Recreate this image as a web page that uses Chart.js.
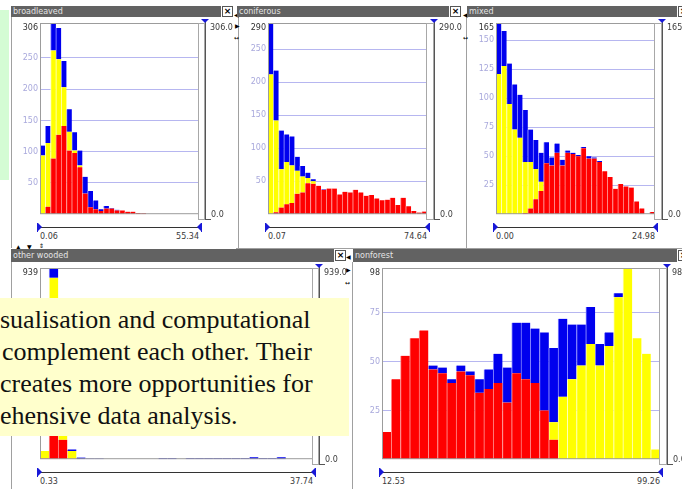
<!DOCTYPE html>
<html>
<head>
<meta charset="utf-8">
<title>histograms</title>
<script src="https://cdn.jsdelivr.net/npm/chart.js@4.4.1/dist/chart.umd.min.js"></script>
<style>
  html, body { margin: 0; padding: 0; background: #fff; overflow: hidden; }
  #stage { position: relative; width: 682px; height: 489px; overflow: hidden; font-family: "DejaVu Sans", sans-serif; }
  .titlebar { position: absolute; background: #626262; color: #e4e4e4; font-size: 8px; padding-left: 2px; box-sizing: border-box; white-space: nowrap; }
  .close { position: absolute; width: 11px; height: 11px; background: #fff; border: 1px solid #555; box-sizing: border-box; font-size: 9px; font-weight: bold; line-height: 8px; text-align: center; color: #000; }
  .lbl { position: absolute; font-size: 8px; line-height: 10px; color: #3a3a3a; white-space: nowrap; }
  .line { position: absolute; background: #555; }
  .tri { position: absolute; width: 0; height: 0; }
  .mark { position: absolute; font-size: 6px; line-height: 6px; color: #000; }
  #note { position: absolute; left: 0; top: 298px; width: 349px; height: 138px; background: #ffffcc;
          font-family: "Liberation Serif", serif; font-size: 26px; line-height: 32px; color: #111;
          padding-top: 6px; box-sizing: border-box; z-index: 10; }
  #note div { white-space: nowrap; }
</style>
</head>
<body>
<div id="stage"></div>
<script>
// bins are stacked red (bottom), yellow, blue (top)
const broadleavedRed    = [0, 12, 89, 127, 141, 102, 98, 75, 33, 11, 8, 5, 9, 9, 6, 6, 4, 4, 2, 1.5, 0, 0, 0, 0, 0, 0, 0, 0, 0, 0];
const broadleavedYellow = [94, 102, 173, 121, 62, 30, 4, 3, 0, 0, 0, 0, 0, 0, 0, 0, 0, 0, 0, 0, 0, 0, 0, 0, 0, 0, 0, 0, 0, 0];
const broadleavedBlue   = [16, 27, 44, 50, 42, 36, 29, 24, 27, 26, 14, 3, 4, 1, 1, 0, 0, 0, 0, 0, 0, 0, 0, 0, 0, 0, 0, 0, 0, 0];
const broadleavedMax = 306;
const broadleavedTicks = [50, 100, 150, 200, 250];
const broadleavedRange = ['0.06', '55.34'];
const broadleavedSide = ['306.0', '0.0'];

const coniferousRed    = [0, 3, 10, 15, 17, 31, 33, 47, 46, 43, 37, 39, 39, 30, 34, 33, 37, 33, 28, 29, 24, 21, 22, 25, 14, 25, 12, 5, 2.5, 4];
const coniferousYellow = [212, 139, 58, 64, 57, 35, 24, 8, 4, 0, 0, 0, 0, 0, 0, 0, 0, 0, 0, 0, 0, 0, 0, 0, 0, 0, 0, 0, 0, 0];
const coniferousBlue   = [78, 76, 59, 42, 44, 21, 16, 8, 3, 0, 1, 0, 0, 0, 0, 0, 0, 0, 0, 0, 0, 0, 0, 0, 0, 0, 0, 0, 0, 0];
const coniferousMax = 290;
const coniferousTicks = [50, 100, 150, 200, 250];
const coniferousRange = ['0.07', '74.64'];
const coniferousSide = ['290.0', '0.0'];

const mixedRed    = [0, 0, 0, 0, 0, 1, 5, 13, 20, 44, 42, 53, 42, 53, 52, 50, 57, 48, 48, 45, 37, 32, 22, 26, 24, 23, 11, 5, 0, 2];
const mixedYellow = [121, 128, 95, 73, 66, 44, 40, 26, 8, 0, 0, 0, 0, 0, 0, 0, 0, 0, 0, 0, 0, 0, 0, 0, 0, 0, 0, 0, 0, 0];
const mixedBlue   = [44, 30, 35, 39, 37, 45, 28, 25, 25, 18, 7, 8, 5, 2, 1, 1, 1, 2, 1, 1, 0, 0, 0, 0, 0, 0, 0, 0, 0, 0];
const mixedMax = 165;
const mixedTicks = [25, 50, 75, 100, 125, 150];
const mixedRange = ['0.00', '24.98'];
const mixedSide = ['165', '0.0'];

const otherRed    = [3, 300, 95, 0, 0, 0, 0, 0, 0, 0, 0, 0, 0, 0, 0, 0, 0, 0, 0, 0, 0, 0, 0, 0, 0, 0, 0, 0, 0, 0];
const otherYellow = [37, 591, 250, 40, 0, 0, 0, 0, 0, 0, 0, 0, 0, 0, 0, 0, 0, 0, 0, 0, 0, 0, 0, 0, 0, 0, 0, 0, 0, 0];
const otherBlue   = [0, 48, 0, 8, 8, 3, 3, 0, 0, 0, 0, 0, 0, 5, 5, 0, 5, 5, 5, 5, 5, 5, 5, 10, 5, 5, 10, 0, 0, 0];
const otherMax = 939;
const otherTicks = [250, 500, 750];
const otherRange = ['0.33', '37.74'];
const otherSide = ['939.0', '0.0'];

const nonforestRed    = [14, 41, 53, 62, 66, 46, 44, 39, 45, 43, 34, 36, 39, 29, 44, 41, 39, 25, 10, 0, 0, 0, 0, 0, 0, 0, 0, 0, 0, 0];
const nonforestYellow = [0, 0, 0, 0, 0, 0, 0, 0, 0, 0, 0, 0, 0, 0, 0, 0, 0, 0, 9, 32, 41, 48, 59, 48, 58, 83, 98, 62, 54, 5];
const nonforestBlue   = [0, 0, 0, 0, 0, 2, 3, 2, 3, 2, 7, 10, 15, 18, 26, 29, 28, 40, 38, 40, 28, 21, 19, 11, 7, 2, 0, 0, 0, 0];
const nonforestMax = 98;
const nonforestTicks = [25, 50, 75];
const nonforestRange = ['12.53', '99.26'];
const nonforestSide = ['98', '0.0'];

const panels = [
  { title: 'broadleaved', red: broadleavedRed, yellow: broadleavedYellow, blue: broadleavedBlue,
    max: broadleavedMax, ticks: broadleavedTicks, range: broadleavedRange, side: broadleavedSide,
    bar: [11, 6, 210, 11], close: [222, 6], plot: [40, 23, 159, 197], line: 205 },
  { title: 'coniferous', red: coniferousRed, yellow: coniferousYellow, blue: coniferousBlue,
    max: coniferousMax, ticks: coniferousTicks, range: coniferousRange, side: coniferousSide,
    bar: [237, 6, 212, 11], close: [450, 6], plot: [268, 23, 159, 197], line: 434 },
  { title: 'mixed', red: mixedRed, yellow: mixedYellow, blue: mixedBlue,
    max: mixedMax, ticks: mixedTicks, range: mixedRange, side: mixedSide,
    bar: [467, 6, 210, 11], close: [678, 6], plot: [496, 23, 159, 197], line: 662 },
  { title: 'other wooded', red: otherRed, yellow: otherYellow, blue: otherBlue,
    max: otherMax, ticks: otherTicks, range: otherRange, side: otherSide,
    bar: [11, 249, 323, 13], close: [335, 250], plot: [40, 268, 273, 197], line: 319 },
  { title: 'nonforest', red: nonforestRed, yellow: nonforestYellow, blue: nonforestBlue,
    max: nonforestMax, ticks: nonforestTicks, range: nonforestRange, side: nonforestSide,
    bar: [353, 249, 324, 13], close: [678, 250], plot: [382, 268, 278, 197], line: 667 }
];

const stage = document.getElementById('stage');
const BLUE_MARK = '#1818d8';

function add(tag, cls, css, text) {
  const e = document.createElement(tag);
  if (cls) e.className = cls;
  e.style.cssText = css;
  if (text !== undefined) e.textContent = text;
  stage.appendChild(e);
  return e;
}

function tri(x, y, dir, size) {
  const s = size || 4;
  let css = `left:${x}px;top:${y}px;`;
  if (dir === 'down') css += `border-left:${s}px solid transparent;border-right:${s}px solid transparent;border-top:${s}px solid ${BLUE_MARK};`;
  if (dir === 'right') css += `border-top:${s}px solid transparent;border-bottom:${s}px solid transparent;border-left:${s}px solid ${BLUE_MARK};`;
  if (dir === 'left') css += `border-top:${s}px solid transparent;border-bottom:${s}px solid transparent;border-right:${s}px solid ${BLUE_MARK};`;
  add('div', 'tri', css);
}

// frame, max label on the left axis
const framePlugin = {
  id: 'frame',
  afterDatasetsDraw(chart) {
    const { ctx, chartArea: a, scales: { y } } = chart;
    ctx.save();
    ctx.strokeStyle = '#9c9c9c';
    ctx.lineWidth = 1;
    ctx.strokeRect(a.left + 0.5, a.top + 0.5, a.right - a.left - 1, a.bottom - a.top - 1);
    ctx.fillStyle = '#303030';
    ctx.font = '8px "DejaVu Sans"';
    ctx.textAlign = 'right';
    ctx.textBaseline = 'middle';
    ctx.fillText(String(y.max), a.left - 2, a.top + 5);
    ctx.restore();
  }
};

function buildPanel(p) {
  const [bx, by, bw, bh] = p.bar;
  const [px, py, pw, ph] = p.plot;

  add('div', 'titlebar', `left:${bx}px;top:${by}px;width:${bw}px;height:${bh}px;line-height:${bh}px;`, p.title);
  add('div', 'close', `left:${p.close[0]}px;top:${p.close[1]}px;`, '×');

  // chart canvas: left axis + plot area
  const axisW = 30, padTop = 8, padBottom = 1, padRight = 1;
  const cw = axisW + pw + padRight, chh = padTop + ph + padBottom;
  const canvas = document.createElement('canvas');
  canvas.width = cw;
  canvas.height = chh;
  canvas.style.cssText = `position:absolute;left:${px - axisW}px;top:${py - padTop}px;width:${cw}px;height:${chh}px;`;
  stage.appendChild(canvas);

  const bins = p.red.map((_, i) => String(i + 1));
  const ds = (data, fill, edge) => ({
    data, backgroundColor: fill, borderColor: edge, borderSkipped: false,
    borderWidth: { left: 1, right: 0, top: 0, bottom: 0 }
  });

  new Chart(canvas.getContext('2d'), {
    type: 'bar',
    data: {
      labels: bins,
      datasets: [
        ds(p.red, '#ff0000', '#ff8a8a'),
        ds(p.yellow, '#ffff00', '#ffffb8'),
        ds(p.blue, '#0000ee', '#8a8aff')
      ]
    },
    options: {
      responsive: false,
      animation: false,
      events: [],
      layout: { padding: { top: padTop, bottom: padBottom, left: 0, right: padRight } },
      plugins: { legend: { display: false }, tooltip: { enabled: false } },
      datasets: { bar: { barPercentage: 1, categoryPercentage: 1 } },
      scales: {
        x: { stacked: true, display: false },
        y: {
          stacked: true, min: 0, max: p.max,
          afterBuildTicks: s => { s.ticks = p.ticks.map(v => ({ value: v })); },
          afterFit: s => { s.width = axisW; },
          ticks: { color: '#a9a9dc', padding: 2, font: { family: 'DejaVu Sans', size: 8 } },
          grid: { color: '#b6b6f0', drawTicks: false },
          border: { display: false }
        }
      }
    },
    plugins: [framePlugin]
  });

  // vertical value scale on the right
  const right = px + pw;
  add('div', '', `position:absolute;left:${right - 1}px;top:${py}px;width:${p.line - right + 1}px;height:${ph}px;border:1px solid #a8a8a8;box-sizing:border-box;background:#fff;`);
  add('div', 'line', `left:${p.line}px;top:${py - 1}px;width:1px;height:${ph + 1}px;`);
  add('div', 'line', `left:${p.line}px;top:${py + ph - 1}px;width:6px;height:1px;`);
  tri(p.line - 4, py - 4, 'down', 4);
  add('div', 'lbl', `left:${p.line + 5}px;top:${py}px;`, p.side[0]);
  add('div', 'lbl', `left:${p.line + 6}px;top:${py + ph - 10}px;`, p.side[1]);

  // horizontal range slider under the plot
  const sy = py + ph + 7;
  add('div', 'line', `left:${px - 2}px;top:${sy}px;width:${pw + 4}px;height:1px;background:#333;`);
  add('div', 'line', `left:${px - 3}px;top:${sy - 4}px;width:1px;height:9px;background:${BLUE_MARK};`);
  tri(px - 2, sy - 4, 'right', 4);
  add('div', 'line', `left:${right + 2}px;top:${sy - 4}px;width:1px;height:9px;background:${BLUE_MARK};`);
  tri(right - 2, sy - 4, 'left', 4);
  add('div', 'lbl', `left:${px}px;top:${sy + 5}px;`, p.range[0]);
  add('div', 'lbl', `left:${right - 60}px;top:${sy + 5}px;width:60px;text-align:right;`, p.range[1]);
}

// surroundings of the panels
add('div', '', 'position:absolute;left:0;top:10px;width:9px;height:170px;background:#d4fcd4;');
add('div', 'line', 'left:11px;top:17px;width:1px;height:231px;background:#a0a0a0;');
add('div', 'line', 'left:238px;top:17px;width:1px;height:231px;background:#a0a0a0;');
add('div', 'line', 'left:466px;top:17px;width:1px;height:231px;background:#a0a0a0;');
add('div', 'line', 'left:236px;top:248px;width:446px;height:1px;background:#a0a0a0;');
add('div', 'line', 'left:11px;top:262px;width:1px;height:227px;background:#a0a0a0;');
add('div', 'line', 'left:352px;top:262px;width:1px;height:227px;background:#a0a0a0;');

const marks = [
  [234, 12, '◀'], [235, 23, '▶'], [234, 35, '↔'],
  [463, 12, '◀'], [463, 35, '↔'],
  [346, 254, '◀'], [346, 267, '▶'], [345, 280, '↔'],
  [16, 244, '▲'], [27, 244, '▼'], [39, 243, '⇕']
];
marks.forEach(m => add('div', 'mark', `left:${m[0]}px;top:${m[1]}px;`, m[2]));

panels.forEach(buildPanel);

// the slide text box lying over the lower left panel
const note = add('div', '', '');
note.id = 'note';
[['sualisation and computational', 0], ['complement each other. Their', 2], ['creates more opportunities for', 0], ['ehensive data analysis.', 0]]
  .forEach(([t, dx]) => {
    const d = document.createElement('div');
    d.textContent = t;
    d.style.marginLeft = dx + 'px';
    note.appendChild(d);
  });
</script>
</body>
</html>
